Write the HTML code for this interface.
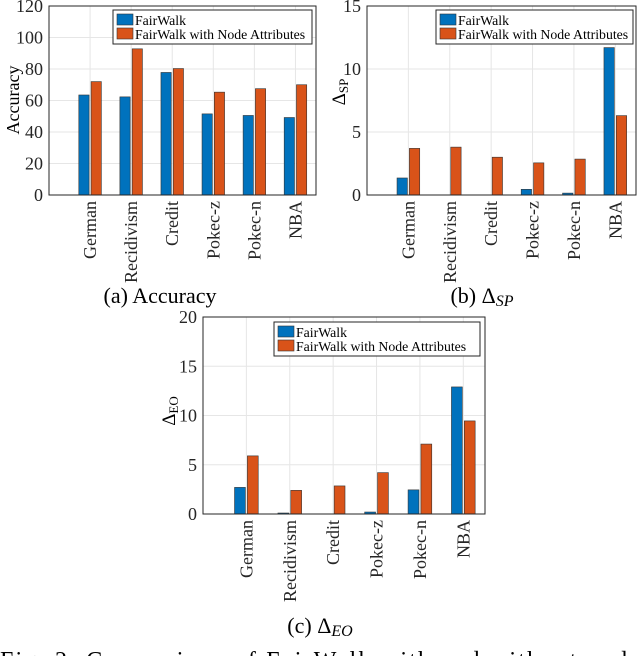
<!DOCTYPE html>
<html><head><meta charset="utf-8"><style>
body{margin:0;background:#fff;width:640px;height:656px;overflow:hidden;font-family:"Liberation Serif",serif;}
svg text{font-family:"Liberation Serif",serif;}
</style></head><body>
<svg id="svg" width="640" height="656" xmlns="http://www.w3.org/2000/svg"></svg>
<script>
const categories=["German","Recidivism","Credit","Pokec-z","Pokec-n","NBA"];
const accFair=[63.5,62.3,77.8,51.5,50.5,49.2];
const accAttr=[72,92.8,80.3,65.3,67.5,70];
const spFair=[1.35,0,0,0.45,0.15,11.7];
const spAttr=[3.7,3.8,3.0,2.55,2.85,6.3];
const eoFair=[2.7,0.1,0,0.2,2.45,12.9];
const eoAttr=[5.9,2.4,2.85,4.2,7.1,9.45];
const accTicks=[0,20,40,60,80,100,120];
const spTicks=[0,5,10,15];
const eoTicks=[0,5,10,15,20];

const NS="http://www.w3.org/2000/svg";
const svg=document.getElementById('svg');
function mk(tag,attrs,parent,text){const e=document.createElementNS(NS,tag);for(const k in attrs)e.setAttribute(k,attrs[k]);if(text!==undefined)e.textContent=text;(parent||svg).appendChild(e);return e;}

function chart(o){
  const g=mk('g',{});
  
  
  const W=o.x1-o.x0,H=o.y1-o.y0;
  const xs=i=>o.x0+(i+1)*W/6.5;
  const ys=v=>o.y1-v/o.ymax*H;
  o.ticks.forEach(t=>{const y=ys(t);
    const l=mk('line',{x1:o.x0,x2:o.x1,y1:y,y2:y,stroke:'#e6e6e6','stroke-width':1},g);
    
    const tx=mk('text',{x:o.x0-6,y:y+6,'text-anchor':'end','font-size':18,fill:'#262626'},g,String(t));
    
  });
  categories.forEach((c,i)=>{const x=xs(i);
    const l=mk('line',{x1:x,x2:x,y1:o.y0,y2:o.y1,stroke:'#e6e6e6','stroke-width':1},g);
    
    const tx=mk('text',{transform:`translate(${x+6},${o.y1+6}) rotate(-90)`,'text-anchor':'end','font-size':18,fill:'#262626'},g,c);
    
  });
  const bw=W/6.5*0.25;
  categories.forEach((c,i)=>{
    [[o.a,'#0072BD',-1],[o.b,'#D95319',1]].forEach(([arr,col,s])=>{
      const v=arr[i];const x=xs(i)+(s<0?-bw-1:1);
      const r=mk('rect',{x:x,y:ys(v),width:bw,height:Math.max(0,o.y1-ys(v)),fill:col,stroke:'#333','stroke-width':0.6},g);
      
      
    });
  });
  const ax=mk('rect',{x:o.x0,y:o.y0,width:W,height:H,fill:'none',stroke:'#262626','stroke-width':1},g);
  
  const L=o.leg;
  const lg=mk('g',{},g);
  
  mk('rect',{x:L[0],y:L[1],width:L[2],height:34,fill:'#fff',stroke:'#262626','stroke-width':1},lg);
  [['FairWalk','#0072BD',L[1]+4],['FairWalk with Node Attributes','#D95319',L[1]+18]].forEach(([t,col,y])=>{
    const e=mk('g',{},lg);
    
    mk('rect',{x:L[0]+4,y:y,width:16,height:11,fill:col,stroke:'#333','stroke-width':0.6},e);
    mk('text',{x:L[0]+22,y:y+11,'font-size':13.8,fill:'#000'},e,t);
  });
  return {g,ys};
}

chart({name:'accuracy-chart',x0:49,x1:316,y0:6,y1:195,ymax:120,ticks:accTicks,a:accFair,b:accAttr,leg:[113,10,199]});
chart({name:'sp-chart',x0:367,x1:636,y0:6,y1:195,ymax:15,ticks:spTicks,a:spFair,b:spAttr,leg:[436,10,197]});
chart({name:'eo-chart',x0:203,x1:485,y0:317,y1:514,ymax:20,ticks:eoTicks,a:eoFair,b:eoAttr,leg:[274,322,206]});

let t;
t=mk('text',{transform:'translate(19,100) rotate(-90)','text-anchor':'middle','font-size':18});t.textContent='Accuracy';

t=mk('text',{transform:'translate(345,92) rotate(-90)','text-anchor':'middle','font-size':19});
t.innerHTML='Δ<tspan font-size="13" dy="3">SP</tspan>';

t=mk('text',{transform:'translate(175,411) rotate(-90)','text-anchor':'middle','font-size':19});
t.innerHTML='Δ<tspan font-size="13" dy="3">EO</tspan>';


t=mk('text',{x:160,y:303,'text-anchor':'middle','font-size':22});t.textContent='(a)  Accuracy';

t=mk('text',{x:482,y:303,'text-anchor':'middle','font-size':22});
t.innerHTML='(b)  Δ<tspan font-style="italic" font-size="16" dy="3">SP</tspan>';

t=mk('text',{x:320,y:633,'text-anchor':'middle','font-size':22});
t.innerHTML='(c)  Δ<tspan font-style="italic" font-size="16" dy="3">EO</tspan>';

t=mk('text',{x:0,y:668,'font-size':24,textLength:640,lengthAdjust:'spacing'});t.textContent='Fig. 2:  Comparison  of  FairWalk  with  and  without  node';

</script>
</body></html>
